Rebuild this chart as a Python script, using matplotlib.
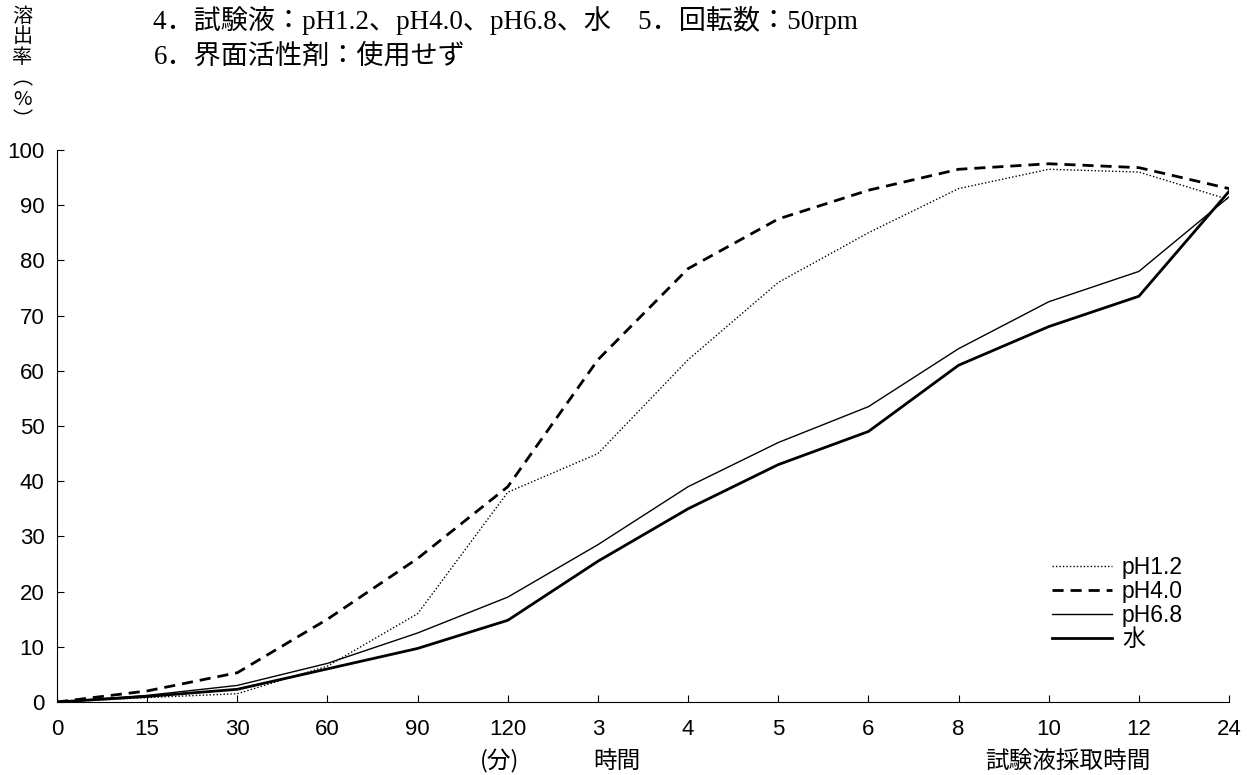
import matplotlib.pyplot as plt

plt.rcParams['font.family'] = ['Noto Sans CJK JP', 'DejaVu Sans']

# sampling time labels (minutes, then hours)
time_labels = ['0', '15', '30', '60', '90', '120', '3', '4', '5', '6', '8', '10', '12', '24']

ph12 = [0, 0.8, 1.5, 6.5, 16, 38, 45, 62, 76, 85, 93, 96.5, 96, 91]
ph40 = [0, 2, 5.3, 15, 26, 39, 62, 78.5, 87.5, 92.7, 96.5, 97.5, 96.8, 93]
ph68 = [0, 1.2, 3, 7, 12.5, 19, 28.5, 39, 47, 53.5, 64, 72.5, 78, 91.5]
water = [0, 1, 2.3, 6, 9.7, 14.8, 25.5, 35, 43, 49, 61, 68, 73.5, 92.5]

tick_font = ['Liberation Sans', 'DejaVu Sans']
serif_cjk = ['Liberation Serif', 'Noto Sans CJK JP']

fig = plt.figure(figsize=(12.47, 7.75), dpi=100)
ax = fig.add_axes([0.0457, 0.0942, 0.9399, 0.7123])

x = range(len(time_labels))
ax.plot(x, ph12, color='black', lw=1.0, linestyle=(0, (1, 1.5)), label='pH1.2')
ax.plot(x, ph40, color='black', lw=2.0, linestyle=(0, (4, 2.5)), label='pH4.0')
ax.plot(x, ph68, color='black', lw=1.0, label='pH6.8')
ax.plot(x, water, color='black', lw=2.0, label='水')

ax.set_xlim(0, len(time_labels) - 1)
ax.set_ylim(0, 100)
ax.set_xticks(list(x))
ax.set_xticklabels(time_labels)
ax.set_yticks(range(0, 101, 10))
ax.spines['top'].set_visible(False)
ax.spines['right'].set_visible(False)
ax.tick_params(direction='in', length=5, width=0.8, labelsize=16)
ax.tick_params(axis='x', pad=12)
ax.tick_params(axis='y', pad=9)
for lab in ax.get_xticklabels() + ax.get_yticklabels():
    lab.set_fontfamily(tick_font)

leg = ax.legend(loc='upper left', bbox_to_anchor=(0.849, 0.265), frameon=False,
                handlelength=2.6, handletextpad=0.45, labelspacing=0.05,
                fontsize=16.5, borderpad=0, borderaxespad=0)
for t in leg.get_texts():
    t.set_fontfamily(['Liberation Sans', 'Noto Sans CJK JP'])

# vertical y-axis title
fig.text(0.018, 0.993, '溶\n出\n率\n︵\n%\n︶', fontsize=14.5, va='top', ha='center',
         linespacing=1.0)

fig.text(0.123, 0.974, '4．試験液：pH1.2、pH4.0、pH6.8、水　5．回転数：50rpm',
         fontsize=19.5, va='center', ha='left', family=serif_cjk)
fig.text(0.123, 0.926, '6．界面活性剤：使用せず', fontsize=19.5, va='center', ha='left',
         family=serif_cjk)

fig.text(0.401, 0.017, '(分)', fontsize=17, ha='center', va='center')
fig.text(0.495, 0.017, '時間', fontsize=17, ha='center', va='center')
fig.text(0.856, 0.017, '試験液採取時間', fontsize=17, ha='center', va='center')

fig.savefig('out.png', dpi=100)
